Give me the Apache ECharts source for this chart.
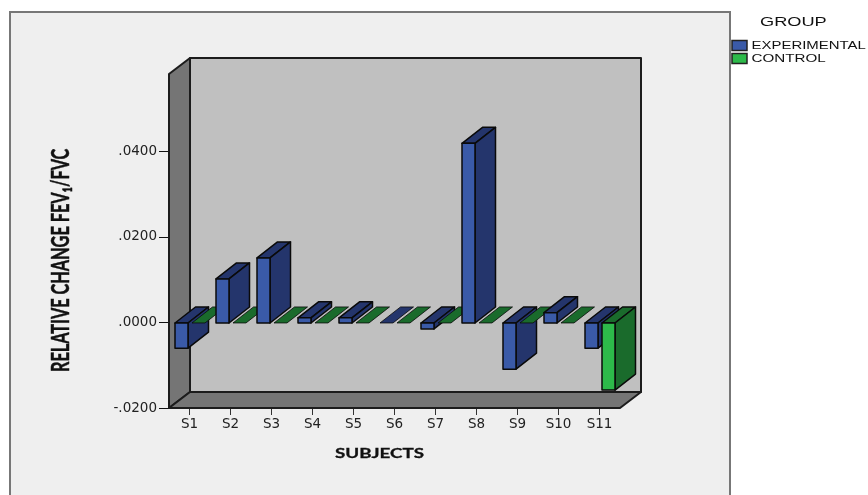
<!DOCTYPE html>
<html>
<head>
<meta charset="utf-8">
<style>html,body{margin:0;padding:0;background:#fff}#chart{width:868px;height:495px}</style>
<script src="https://cdn.jsdelivr.net/npm/echarts@6/dist/echarts.min.js"></script>
</head>
<body>
<div id="chart"></div>
<script>
// Relative change in FEV1/FVC per subject, one value per group
const subjects = ['S1','S2','S3','S4','S5','S6','S7','S8','S9','S10','S11'];
const experimental = [-0.0059, 0.0103, 0.0152, 0.0012, 0.0012, 0, -0.0014, 0.0420, -0.0108, 0.0024, -0.0059];
const control = [0, 0, 0, 0, 0, 0, 0, 0, 0, 0, -0.0157];
const yTicks = [-0.02, 0, 0.02, 0.04];
const yTickLabels = ['-.0200', '.0000', '.0200', '.0400'];
const groupNames = ['EXPERIMENTAL', 'CONTROL'];

// Extrusion of the 3D look, in pixels
const DEPTH_X = 20.5;
const DEPTH_Y = -16;
const BAR_W = 13;
const PALETTE = {
  EXPERIMENTAL: { front: '#3a5aa8', shade: '#24356c', offset: -8 },
  CONTROL: { front: '#2dba4a', shade: '#1a6b2c', offset: 9 }
};
const EDGE = '#0a0a0a';

function poly(points, fill, z2, width) {
  return {
    type: 'polygon', z2: z2,
    shape: { points: points },
    style: { fill: fill, stroke: EDGE, lineWidth: width, lineJoin: 'round' }
  };
}

// Box with front, right side and cap; later subjects stack over earlier ones
function boxRenderer(name) {
  const look = PALETTE[name];
  const rank = name === 'EXPERIMENTAL' ? 0 : 1;
  return function (params, api) {
    const i = api.value(0);
    const zero = api.coord([i, 0]);
    const end = api.coord([i, api.value(1)]);
    const x0 = zero[0] + look.offset - BAR_W / 2;
    const x1 = x0 + BAR_W;
    const yT = Math.min(zero[1], end[1]) + 0.5;
    const yB = Math.max(zero[1], end[1]) + 0.5;
    const z = 10 + i * 10 + rank * 5;
    const d = (p) => [p[0] + DEPTH_X, p[1] + DEPTH_Y];
    const solid = yB - yT > 0.5;
    const children = [
      poly([[x0, yT], [x1, yT], d([x1, yT]), d([x0, yT])], look.shade, z, solid ? 1.5 : 0.8)
    ];
    if (solid) {
      children.push(poly([[x1, yT], d([x1, yT]), d([x1, yB]), [x1, yB]], look.shade, z + 1, 1.5));
      children.push(poly([[x0, yT], [x1, yT], [x1, yB], [x0, yB]], look.front, z + 2, 1.5));
    }
    return { type: 'group', children: children };
  };
}

// Side wall, floor and back wall of the plot box
function renderWalls(params) {
  const c = params.coordSys;
  const l = c.x, r = c.x + c.width, t = c.y, b = c.y + c.height;
  const d = (x, y) => [x + DEPTH_X + 0.5, y + DEPTH_Y];
  const wall = (pts, fill) => ({
    type: 'polygon', z2: 1, shape: { points: pts },
    style: { fill: fill, stroke: '#1c1c1c', lineWidth: 2, lineJoin: 'round' }
  });
  return {
    type: 'group',
    children: [
      wall([d(l, t), d(r, t), d(r, b), d(l, b)], '#c0c0c0'),
      wall([[l, t], d(l, t), d(l, b), [l, b]], '#757575'),
      wall([[l, b], d(l, b), d(r, b), [r, b]], '#757575')
    ]
  };
}

// Text that is wider (or narrower) than its font, as it appears on the plot
function wideText(text, x, y, font, scaleX, extra, strokeWidth) {
  return Object.assign({
    type: 'text', x: x, y: y, scaleX: scaleX, scaleY: 1, z: 5,
    style: {
      text: text, font: font, fill: '#111', textAlign: 'left', textVerticalAlign: 'middle',
      stroke: strokeWidth ? '#111' : null, lineWidth: strokeWidth || 0
    }
  }, extra || {});
}

const chart = echarts.init(document.getElementById('chart'), null, { renderer: 'canvas' });
chart.setOption({
  animation: false,
  backgroundColor: '#ffffff',
  grid: { left: 169, right: 248, top: 74, bottom: 87 },
  xAxis: {
    type: 'category',
    data: subjects,
    axisLine: { show: false, onZero: false },
    axisTick: { show: true, alignWithLabel: true, length: 7, lineStyle: { color: '#333' } },
    axisLabel: { interval: 0, margin: 9, color: '#222', fontFamily: 'DejaVu Sans', fontSize: 13.5 },
    boundaryGap: true
  },
  yAxis: {
    type: 'value',
    min: -0.02,
    max: 0.0581,
    interval: 0.02,
    splitLine: { show: false },
    axisLine: { show: false },
    axisTick: { show: true, length: 10, customValues: yTicks, lineStyle: { color: '#111' } },
    axisLabel: {
      customValues: yTicks,
      margin: 12,
      color: '#222',
      fontFamily: 'DejaVu Sans',
      fontSize: 13.5,
      formatter: (v) => yTickLabels[yTicks.indexOf(v)]
    }
  },
  graphic: [
    // panel behind the plot
    { type: 'rect', z: -10, silent: true, shape: { x: 10, y: 12, width: 720, height: 500 },
      style: { fill: '#efefef', stroke: '#777', lineWidth: 2 } },
    wideText('RELATIVE CHANGE FEV\u2081/FVC', 61, 372, 'bold 25px Lato', 0.65, { rotation: Math.PI / 2 }, 0.5),
    wideText('SUBJECTS', 335, 453, 'bold 14px Lato', 1.34, null, 0.3),
    wideText('GROUP', 760, 22, '13px "Liberation Sans"', 1.4),
    { type: 'rect', z: 5, shape: { x: 732, y: 40.5, width: 15, height: 10 },
      style: { fill: PALETTE.EXPERIMENTAL.front, stroke: '#222', lineWidth: 1.5 } },
    wideText(groupNames[0], 751.5, 46, '11.5px "Liberation Sans"', 1.3),
    { type: 'rect', z: 5, shape: { x: 732, y: 53.5, width: 15, height: 10 },
      style: { fill: PALETTE.CONTROL.front, stroke: '#222', lineWidth: 1.5 } },
    wideText(groupNames[1], 751.5, 59, '11.5px "Liberation Sans"', 1.32)
  ],
  series: [
    { type: 'custom', name: 'walls', z: 1, silent: true, clip: false, renderItem: renderWalls, data: [[0, 0]], encode: { x: 0, y: 1 } },
    { type: 'custom', name: groupNames[0], z: 2, clip: false, renderItem: boxRenderer(groupNames[0]),
      encode: { x: 0, y: 1 }, data: experimental.map((v, i) => [i, v]) },
    { type: 'custom', name: groupNames[1], z: 2, clip: false, renderItem: boxRenderer(groupNames[1]),
      encode: { x: 0, y: 1 }, data: control.map((v, i) => [i, v]) }
  ]
});
</script>
</body>
</html>
